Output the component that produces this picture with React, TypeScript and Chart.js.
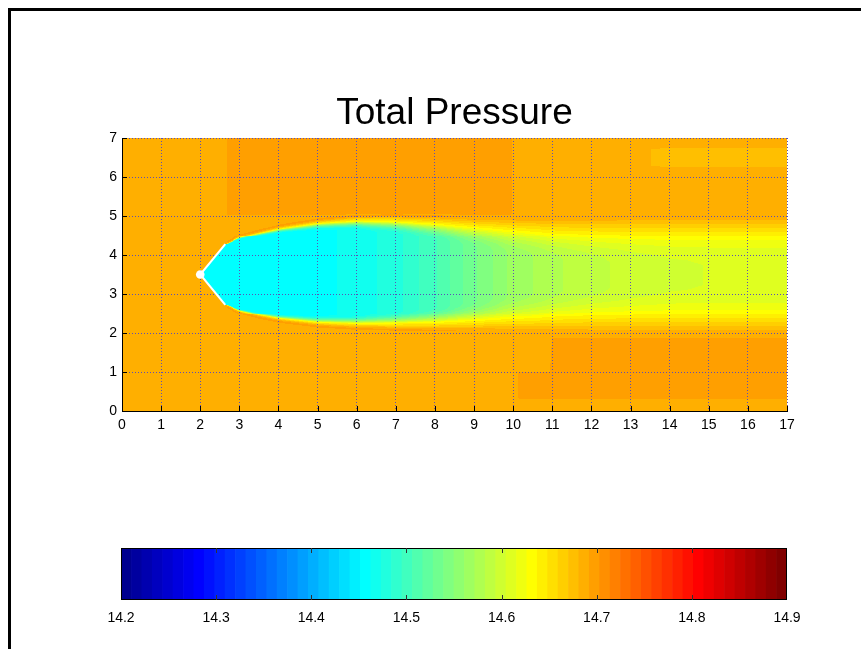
import React, { useEffect, useRef } from "react";
import { Chart, registerables } from "chart.js";

Chart.register(...registerables);

// ---------------- data ----------------
const chartTitle = "Total Pressure";
const xRange = [0, 17];
const yRange = [0, 7];
const colorRange = [14.2, 14.9];
const colorbarStep = 0.1;

// nozzle outline (white wedge) and its tip
const nozzleX = [2.64, 2, 2.64];
const nozzleY = [4.28, 3.5, 2.72];

// Field: one vertical profile per x-station
const stationX = [0, 1.99, 2, 2.64, 2.7, 3, 3.5, 4, 5, 6, 7, 8, 9, 9.9, 10.05, 10.2, 10.95, 11, 12, 13, 14, 15, 16, 17];
const lowerEdge = [3.5, 3.5, 3.5, 2.72, 2.7, 2.55, 2.42, 2.32, 2.2, 2.14, 2.12, 2.1, 2.09, 2.08, 2.08, 2.07, 2.05, 2.05, 2.04, 2.03, 2.02, 2.02, 2.02, 2.02];
const upperEdge = [3.5, 3.5, 3.5, 4.28, 4.3, 4.47, 4.6, 4.72, 4.88, 4.97, 4.98, 4.96, 4.93, 4.92, 4.92, 4.92, 4.92, 4.92, 4.93, 4.94, 4.95, 4.95, 4.95, 4.95];
const peakDist = [0, 0, 0, 0.01, 0.015, 0.03, 0.04, 0.05, 0.07, 0.1, 0.13, 0.17, 0.23, 0.3, 0.31, 0.32, 0.39, 0.4, 0.45, 0.48, 0.5, 0.5, 0.5, 0.5];
const coreDist = [0, 0, 0, 0.02, 0.03, 0.08, 0.12, 0.16, 0.24, 0.32, 0.42, 0.55, 0.72, 0.88, 0.9, 0.92, 0.99, 1.0, 1.1, 1.15, 1.2, 1.2, 1.2, 1.2];
const coreVal = [14.687, 14.687, 14.457, 14.457, 14.457, 14.457, 14.457, 14.457, 14.459, 14.466, 14.48, 14.505, 14.537, 14.562, 14.565, 14.567, 14.579, 14.58, 14.59, 14.598, 14.603, 14.605, 14.605, 14.605];
const peakVal = [14.687, 14.687, 14.457, 14.457, 14.6, 14.63, 14.632, 14.632, 14.632, 14.632, 14.632, 14.632, 14.632, 14.632, 14.632, 14.632, 14.632, 14.632, 14.632, 14.632, 14.632, 14.632, 14.632, 14.632];
const rimVal = [14.687, 14.687, 14.687, 14.687, 14.698, 14.698, 14.698, 14.698, 14.698, 14.698, 14.698, 14.698, 14.69, 14.687, 14.687, 14.687, 14.687, 14.687, 14.687, 14.687, 14.687, 14.687, 14.687, 14.687];
const upperFarVal = [14.687, 14.687, 14.687, 14.687, 14.698, 14.698, 14.698, 14.698, 14.698, 14.698, 14.698, 14.698, 14.698, 14.698, 14.687, 14.687, 14.687, 14.687, 14.687, 14.687, 14.687, 14.687, 14.687, 14.687];
const upperBandVal = [14.687, 14.687, 14.687, 14.687, 14.698, 14.698, 14.698, 14.698, 14.698, 14.698, 14.698, 14.698, 14.698, 14.698, 14.687, 14.687, 14.687, 14.687, 14.687, 14.687, 14.676, 14.676, 14.676, 14.676];
const lowerBandVal = [14.687, 14.687, 14.687, 14.687, 14.687, 14.687, 14.687, 14.687, 14.687, 14.687, 14.687, 14.687, 14.687, 14.687, 14.687, 14.698, 14.698, 14.698, 14.698, 14.698, 14.698, 14.698, 14.698, 14.698];
const lowerBandTop = [1.0, 1.0, 1.0, 1.0, 1.0, 1.0, 1.0, 1.0, 1.0, 1.0, 1.0, 1.0, 1.0, 1.0, 1.0, 1.0, 1.0, 1.88, 1.88, 1.88, 1.88, 1.88, 1.88, 1.88];
const ambientVal = 14.687;
const lowerBandBottom = 0.3;
const upperFarStart = 5.02;
const upperBandLimits = [6.25, 6.75];

// ---------------- helpers ----------------
const FONT = '"Liberation Sans", Arial, Helvetica, sans-serif';
const GRID_COLOR = "#5b4fb8";

function jetColormap(m: number): string[] {
  const n = Math.ceil(m / 4);
  const u: number[] = [];
  for (let i = 1; i <= n; i++) u.push(i / n);
  for (let i = 1; i < n; i++) u.push(1);
  for (let i = n; i >= 1; i--) u.push(i / n);
  const g0 = Math.ceil(n / 2) - (m % 4 === 1 ? 1 : 0);
  const J = Array.from({ length: m }, () => [0, 0, 0]);
  for (let k = 0; k < u.length; k++) {
    const g = g0 + k + 1;
    const r = g + n;
    const b = g - n;
    if (g >= 1 && g <= m) J[g - 1][1] = u[k];
    if (r >= 1 && r <= m) J[r - 1][0] = u[k];
    if (b >= 1 && b <= m) J[b - 1][2] = u[k];
  }
  return J.map(([r, g, b]) => `rgb(${Math.round(r * 255)},${Math.round(g * 255)},${Math.round(b * 255)})`);
}
const JET = jetColormap(64);

function colorIndex(v: number): number {
  const t = (v - colorRange[0]) / (colorRange[1] - colorRange[0]);
  return Math.max(0, Math.min(JET.length - 1, Math.floor(t * JET.length)));
}

function lerpAt(arr: number[], x: number): number {
  const n = stationX.length;
  if (x <= stationX[0]) return arr[0];
  if (x >= stationX[n - 1]) return arr[n - 1];
  let i = 0;
  while (stationX[i + 1] < x) i++;
  const t = (x - stationX[i]) / (stationX[i + 1] - stationX[i]);
  return arr[i] + (arr[i + 1] - arr[i]) * t;
}

function buildProfile(x: number): number[][] {
  const L = lerpAt(lowerEdge, x);
  const U = lerpAt(upperEdge, x);
  const p = lerpAt(peakDist, x);
  const s = lerpAt(coreDist, x);
  const core = lerpAt(coreVal, x);
  const peak = lerpAt(peakVal, x);
  const rim = lerpAt(rimVal, x);
  const far = lerpAt(upperFarVal, x);
  const topBand = lerpAt(upperBandVal, x);
  const band = lerpAt(lowerBandVal, x);
  const bandTop = lerpAt(lowerBandTop, x);
  const mid = (L + U) / 2;
  const rimW = 0.08;
  const a = ambientVal;
  const pts: number[][] = [];
  pts.push([yRange[0], a], [lowerBandBottom - 0.03, a], [lowerBandBottom + 0.03, band], [bandTop - 0.03, band], [bandTop + 0.03, a]);
  pts.push([L - rimW, a], [L - rimW / 2, rim], [L, a]);
  const K = 6;
  pts.push([Math.min(L + p, mid), peak]);
  for (let j = 1; j <= K; j++) {
    const f = j / K;
    pts.push([Math.min(L + p + (s - p) * f, mid), peak + (core - peak) * (1 - (1 - f) * (1 - f))]);
  }
  for (let j = K; j >= 1; j--) {
    const f = j / K;
    pts.push([Math.max(U - p - (s - p) * f, mid), peak + (core - peak) * (1 - (1 - f) * (1 - f))]);
  }
  pts.push([Math.max(U - p, mid), peak]);
  pts.push([U, a], [U + rimW / 2, rim], [U + rimW, a]);
  pts.push(
    [upperFarStart - 0.03, a],
    [upperFarStart + 0.03, far],
    [upperBandLimits[0] - 0.03, far],
    [upperBandLimits[0] + 0.03, topBand],
    [upperBandLimits[1] - 0.03, topBand],
    [upperBandLimits[1] + 0.03, far],
    [yRange[1], far]
  );
  for (let k = 1; k < pts.length; k++) if (pts[k][0] < pts[k - 1][0]) pts[k][0] = pts[k - 1][0];
  return pts;
}

function evalProfile(pts: number[][], y: number): number {
  for (let k = 0; k < pts.length - 1; k++) {
    const y0 = pts[k][0];
    const y1 = pts[k + 1][0];
    if (y1 > y0 && y >= y0 && y <= y1) return pts[k][1] + ((pts[k + 1][1] - pts[k][1]) * (y - y0)) / (y1 - y0);
  }
  return pts[pts.length - 1][1];
}

const fieldPlugin = {
  id: "field",
  beforeDraw(chart: any) {
    const { ctx, chartArea: area, scales } = chart;
    const xs = scales.x;
    const ys = scales.y;
    ctx.save();
    ctx.beginPath();
    ctx.rect(area.left, area.top, area.right - area.left, area.bottom - area.top);
    ctx.clip();
    const nx = 680;
    const ny = 280;
    const dx = (xRange[1] - xRange[0]) / nx;
    const dy = (yRange[1] - yRange[0]) / ny;
    for (let i = 0; i < nx; i++) {
      const prof = buildProfile(xRange[0] + (i + 0.5) * dx);
      const px0 = Math.round(xs.getPixelForValue(xRange[0] + i * dx));
      const px1 = Math.round(xs.getPixelForValue(xRange[0] + (i + 1) * dx));
      let runIdx = -1;
      let runStart = 0;
      for (let j = 0; j <= ny; j++) {
        const idx = j < ny ? colorIndex(evalProfile(prof, yRange[0] + (j + 0.5) * dy)) : -2;
        if (idx !== runIdx) {
          if (runIdx >= 0) {
            const pyTop = Math.round(ys.getPixelForValue(yRange[0] + j * dy));
            const pyBot = Math.round(ys.getPixelForValue(yRange[0] + runStart * dy));
            ctx.fillStyle = JET[runIdx];
            ctx.fillRect(px0, pyTop, px1 - px0, pyBot - pyTop);
          }
          runIdx = idx;
          runStart = j;
        }
      }
    }
    ctx.restore();
  },
};

const innerTicksPlugin = {
  id: "innerTicks",
  afterDraw(chart: any) {
    const { ctx, chartArea: area, scales } = chart;
    ctx.save();
    ctx.strokeStyle = "#000";
    ctx.lineWidth = 1;
    ctx.beginPath();
    scales.x.ticks.forEach((t: any) => {
      const px = Math.round(scales.x.getPixelForValue(t.value)) + 0.5;
      ctx.moveTo(px, area.bottom);
      ctx.lineTo(px, area.bottom - 5);
    });
    scales.y.ticks.forEach((t: any) => {
      const py = Math.round(scales.y.getPixelForValue(t.value)) + 0.5;
      ctx.moveTo(area.left, py);
      ctx.lineTo(area.left + 5, py);
    });
    ctx.stroke();
    ctx.restore();
  },
};

const colorbarFramePlugin = {
  id: "cbFrame",
  afterDraw(chart: any) {
    const { ctx, chartArea: area, scales } = chart;
    ctx.save();
    ctx.strokeStyle = "#000";
    ctx.lineWidth = 1;
    ctx.strokeRect(Math.round(area.left) + 0.5, Math.round(area.top) + 0.5, Math.round(area.right - area.left) - 1, Math.round(area.bottom - area.top) - 1);
    ctx.strokeStyle = "#333";
    ctx.beginPath();
    scales.x.ticks.forEach((t: any) => {
      if (t.value <= colorRange[0] + 1e-6 || t.value >= colorRange[1] - 1e-6) return;
      const px = Math.round(scales.x.getPixelForValue(t.value)) + 0.5;
      ctx.moveTo(px, area.top);
      ctx.lineTo(px, area.top + 5);
      ctx.moveTo(px, area.bottom);
      ctx.lineTo(px, area.bottom - 5);
    });
    ctx.stroke();
    ctx.restore();
  },
};

export default function App() {
  const mainRef = useRef<HTMLCanvasElement | null>(null);
  const barRef = useRef<HTMLCanvasElement | null>(null);

  useEffect(() => {
    if (!mainRef.current || !barRef.current) return;
    const gridColor = (ctx: any) => (ctx.tick && ctx.tick.value === 0 ? "rgba(0,0,0,0)" : GRID_COLOR);
    const main = new Chart(mainRef.current, {
      type: "scatter",
      data: {
        datasets: [
          {
            data: nozzleX.map((x, i) => ({ x, y: nozzleY[i] })),
            showLine: true,
            borderColor: "#ffffff",
            borderWidth: 2,
            pointRadius: [0, 4.3, 0],
            pointBackgroundColor: "#ffffff",
            pointBorderColor: "#ffffff",
            pointBorderWidth: 0,
          },
        ],
      },
      options: {
        animation: false,
        responsive: false,
        maintainAspectRatio: false,
        layout: { padding: { top: 92, left: 92, right: 74, bottom: 4 } },
        plugins: {
          legend: { display: false },
          tooltip: { enabled: false },
          title: {
            display: true,
            fullSize: false,
            text: chartTitle,
            color: "#000",
            font: { family: FONT, size: 37, weight: "normal" },
            padding: { top: 0, bottom: 1.6 },
          },
        },
        scales: {
          x: {
            type: "linear",
            min: xRange[0],
            max: xRange[1],
            ticks: { stepSize: 1, color: "#000", font: { family: FONT, size: 14 }, padding: 6, maxRotation: 0, autoSkip: false },
            grid: { color: gridColor, lineWidth: 1, drawTicks: false },
            border: { display: true, color: "#000", width: 1, dash: [1, 2] },
            afterFit: (s: any) => {
              s.height = 25;
            },
          },
          y: {
            type: "linear",
            min: yRange[0],
            max: yRange[1],
            ticks: { stepSize: 1, color: "#000", font: { family: FONT, size: 14 }, padding: 5, autoSkip: false },
            grid: { color: gridColor, lineWidth: 1, drawTicks: false },
            border: { display: true, color: "#000", width: 1, dash: [1, 2] },
            afterFit: (s: any) => {
              s.width = 30;
            },
          },
        },
      } as any,
      plugins: [fieldPlugin, innerTicksPlugin],
    });

    const binW = (colorRange[1] - colorRange[0]) / JET.length;
    const bar = new Chart(barRef.current, {
      type: "bar",
      data: {
        labels: ["cb"],
        datasets: [
          {
            data: JET.map((_, i) => ({ x: [colorRange[0] + i * binW, colorRange[0] + (i + 1) * binW], y: "cb" })),
            backgroundColor: JET,
            borderWidth: 0,
            barPercentage: 1,
            categoryPercentage: 1,
          } as any,
        ],
      },
      options: {
        indexAxis: "y",
        animation: false,
        responsive: false,
        maintainAspectRatio: false,
        layout: { padding: { top: 18, left: 121, right: 74, bottom: 14 } },
        plugins: { legend: { display: false }, tooltip: { enabled: false } },
        scales: {
          x: {
            type: "linear",
            min: colorRange[0],
            max: colorRange[1],
            ticks: {
              stepSize: colorbarStep,
              color: "#000",
              font: { family: FONT, size: 14 },
              padding: 10,
              maxRotation: 0,
              autoSkip: false,
              callback: (v: any) => Number(v).toFixed(1),
            },
            grid: { display: false, drawTicks: false },
            border: { display: false },
            afterFit: (s: any) => {
              s.height = 26;
            },
          },
          y: { display: false },
        },
      } as any,
      plugins: [colorbarFramePlugin],
    });

    return () => {
      main.destroy();
      bar.destroy();
    };
  }, []);

  return (
    <div style={{ position: "fixed", left: 0, top: 0, width: 861, height: 649, background: "#fff", overflow: "hidden" }}>
      <div
        style={{
          position: "absolute",
          left: 8,
          top: 8,
          width: 900,
          height: 700,
          borderLeft: "3px solid #000",
          borderTop: "3px solid #000",
          boxSizing: "border-box",
        }}
      />
      <canvas ref={mainRef} width={861} height={440} style={{ position: "absolute", left: 0, top: 0, width: 861, height: 440 }} />
      <canvas ref={barRef} width={861} height={110} style={{ position: "absolute", left: 0, top: 530, width: 861, height: 110 }} />
    </div>
  );
}
